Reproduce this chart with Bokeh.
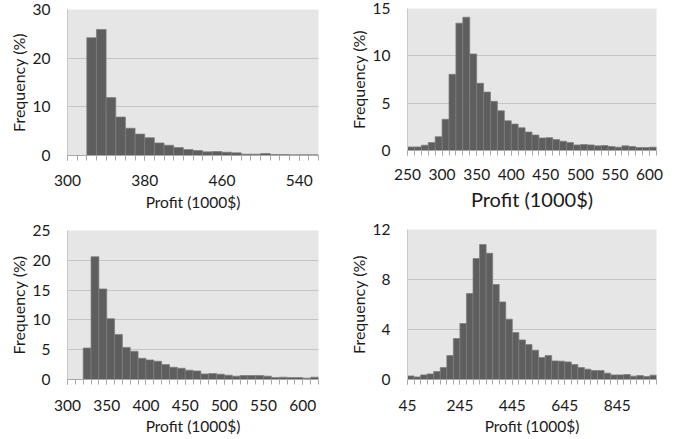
from bokeh.plotting import figure
from bokeh.layouts import column, row
from bokeh.models import FixedTicker
from bokeh.embed import file_html
from bokeh.resources import INLINE
import numpy as np

# ---- data ----
# panel 1 (top-left)
p1_start, p1_width = 300, 10
p1_values = [0, 0, 24.2, 25.9, 11.9, 7.9, 5.6, 4.4, 3.66, 2.58, 2.1, 1.63, 1.22, 1.02,
             0.75, 0.81, 0.68, 0.54, 0.27, 0.27, 0.41, 0.2, 0.2, 0.14, 0.17, 0.14]
p1_xticks = [300, 380, 460, 540]
p1_yticks = [0, 10, 20, 30]

# panel 2 (top-right)
p2_start, p2_width = 250, 10
p2_values = [0.38, 0.38, 0.56, 0.84, 1.46, 3.3, 8.05, 13.45, 14.08, 10.2, 7.1, 6.17,
             5.19, 4.2, 3.14, 2.79, 2.4, 1.95, 1.64, 1.32, 1.36, 1.15, 0.98, 0.84,
             0.59, 0.63, 0.59, 0.49, 0.52, 0.42, 0.35, 0.49, 0.42, 0.31, 0.31, 0.35]
p2_xticks = [250, 300, 350, 400, 450, 500, 550, 600]
p2_yticks = [0, 5, 10, 15]

# panel 3 (bottom-left)
p3_start, p3_width = 300, 10
p3_values = [0, 0, 5.28, 20.6, 15.2, 10.2, 7.56, 5.39, 4.72, 3.56, 3.28, 3.06, 2.5,
             2.06, 1.89, 1.56, 1.44, 0.94, 1.0, 0.89, 0.72, 0.56, 0.67, 0.67, 0.67,
             0.56, 0.33, 0.39, 0.33, 0.33, 0.22, 0.39]
p3_xticks = [300, 350, 400, 450, 500, 550, 600]
p3_yticks = [0, 5, 10, 15, 20, 25]

# panel 4 (bottom-right)
p4_start, p4_width = 45, 25
p4_values = [0.29, 0.21, 0.37, 0.45, 0.64, 0.96, 1.92, 3.28, 4.48, 6.88, 9.68, 10.8,
             10.1, 7.6, 6.21, 4.83, 3.76, 3.17, 2.8, 2.35, 1.76, 1.92, 1.49, 1.47,
             1.41, 1.2, 0.96, 0.83, 0.72, 0.72, 0.51, 0.37, 0.37, 0.4, 0.27, 0.32,
             0.24, 0.35]
p4_xticks = [45, 245, 445, 645, 845]
p4_yticks = [0, 4, 8, 12]

x_title = "Profit (1000$)"
y_title = "Frequency (%)"

FONT = "Lato"
TEXT = "#1a1a1a"
FS = "15.5px"


def panel(start, width, values, xticks, yticks, w, h, bl, br, bt, bb,
          lab_so, title_so, title_size=FS):
    n = len(values)
    end = start + n * width
    p = figure(width=w, height=h, x_range=(start, end), y_range=(0, yticks[-1]),
               output_backend="svg", toolbar_location=None,
               min_border_left=bl, min_border_right=br,
               min_border_top=bt, min_border_bottom=bb)
    lefts = start + np.arange(n) * width
    p.quad(left=lefts, right=lefts + width, top=values, bottom=0,
           fill_color="#5e5e5e", line_color="#7d7d7d", line_width=0.7)
    p.background_fill_color = "#e6e6e6"
    p.border_fill_color = "white"
    p.outline_line_color = None
    p.xgrid.visible = False
    p.ygrid.grid_line_color = "#c4c4c4"
    p.ygrid.grid_line_width = 1
    p.ygrid.ticker = FixedTicker(ticks=yticks)

    xa = p.xaxis[0]
    xa.ticker = FixedTicker(ticks=xticks,
                            minor_ticks=[start + i * width for i in range(n + 1)])
    xa.axis_line_color = "#a8a8a8"
    xa.major_tick_line_color = "#a8a8a8"
    xa.minor_tick_line_color = "#a8a8a8"
    xa.major_tick_out = 5
    xa.major_tick_in = 0
    xa.minor_tick_out = 5
    xa.minor_tick_in = 0
    xa.major_label_standoff = lab_so
    xa.major_label_text_font = FONT
    xa.major_label_text_font_size = FS
    xa.major_label_text_color = TEXT
    xa.axis_label = x_title
    xa.axis_label_text_font = FONT
    xa.axis_label_text_font_size = title_size
    xa.axis_label_text_font_style = "normal"
    xa.axis_label_text_color = TEXT
    xa.axis_label_standoff = title_so

    ya = p.yaxis[0]
    ya.ticker = FixedTicker(ticks=yticks)
    ya.axis_line_color = "#c8c8c8"
    ya.major_tick_line_color = None
    ya.minor_tick_line_color = None
    ya.major_tick_out = 0
    ya.major_tick_in = 0
    ya.major_label_standoff = 17
    ya.major_label_text_font = FONT
    ya.major_label_text_font_size = FS
    ya.major_label_text_color = TEXT
    ya.axis_label = y_title
    ya.axis_label_text_font = FONT
    ya.axis_label_text_font_size = "16px"
    ya.axis_label_text_font_style = "normal"
    ya.axis_label_text_color = TEXT
    ya.axis_label_standoff = 2
    return p


p1 = panel(p1_start, p1_width, p1_values, p1_xticks, p1_yticks,
           335, 220, 67, 16, 9, 65, 14, 4)
p2 = panel(p2_start, p2_width, p2_values, p2_xticks, p2_yticks,
           358, 220, 72, 37, 8, 70, 13, 4, title_size="20px")
p3 = panel(p3_start, p3_width, p3_values, p3_xticks, p3_yticks,
           335, 219, 67, 17, 10, 60, 15, 3)
p4 = panel(p4_start, p4_width, p4_values, p4_xticks, p4_yticks,
           358, 219, 71, 37, 9, 60, 15, 3)

layout = row(column(p1, p3), column(p2, p4))
open("out.html", "w").write(file_html(layout, INLINE))
